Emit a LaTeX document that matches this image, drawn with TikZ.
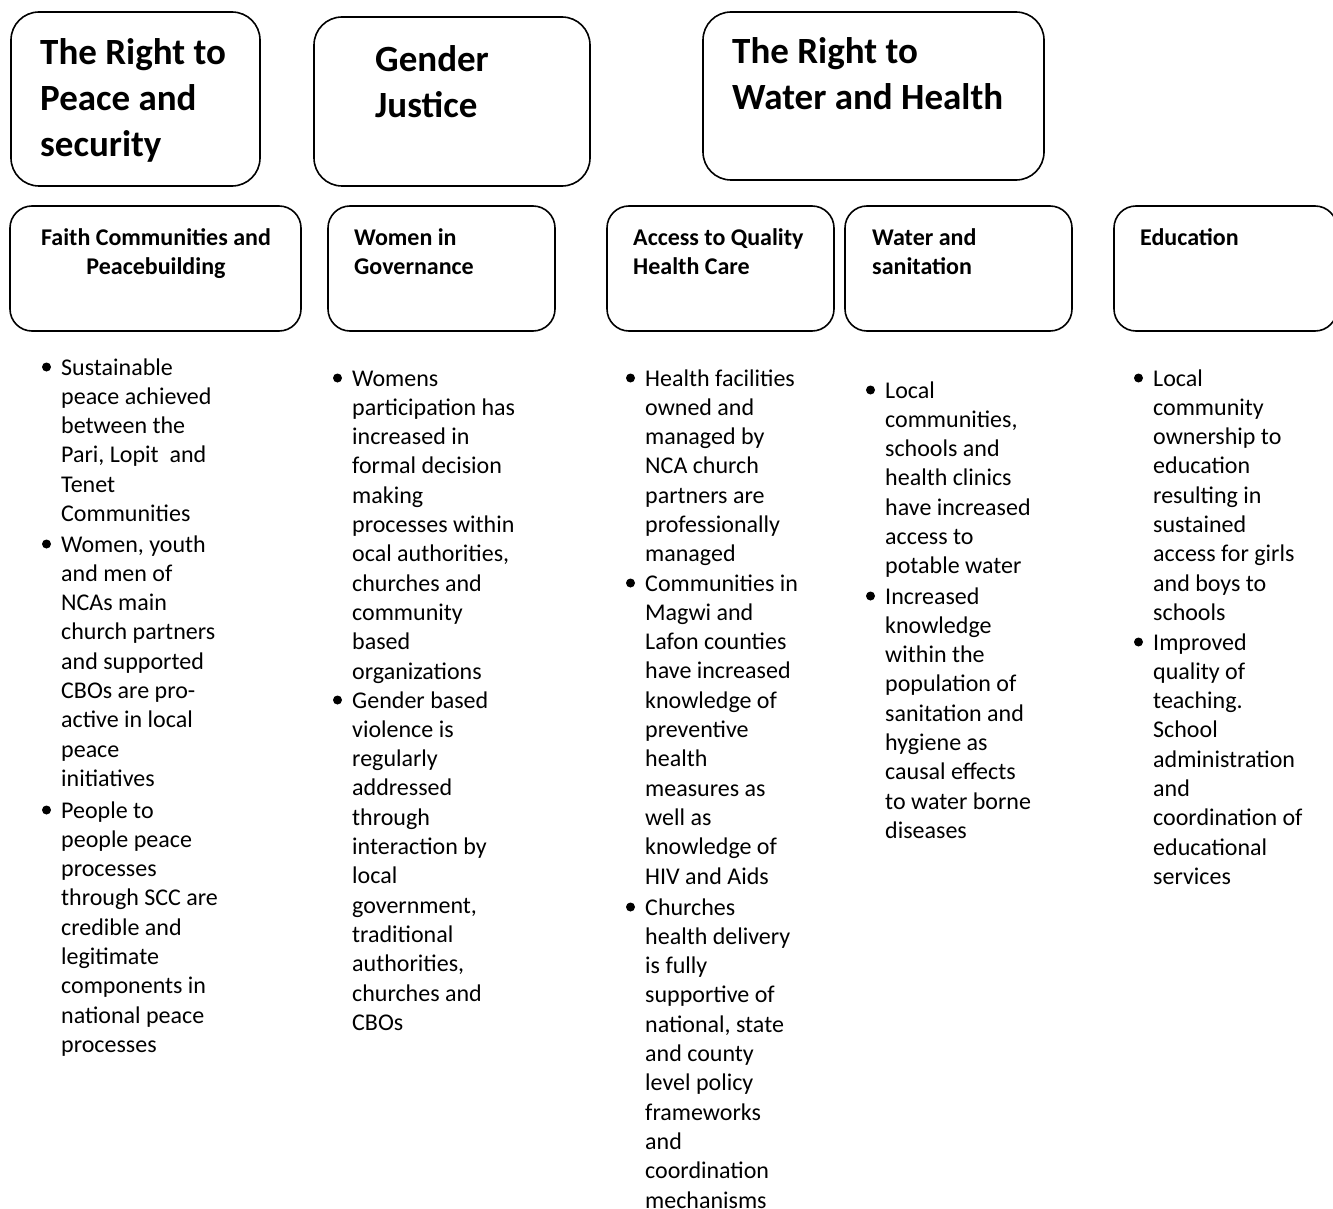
\documentclass[tikz,border=0pt]{standalone}
\usepackage{fontspec}
\setmainfont{Carlito}
\newcommand{\lignes}[1]{\begin{tabular}[t]{@{}l@{}}#1\end{tabular}}
\newcommand{\lignesc}[1]{\begin{tabular}[t]{@{}c@{}}#1\end{tabular}}
\newcommand{\puce}[1]{\fill (#1.base west) ++(-14.5,-8) circle (4.5pt);}
\begin{document}
\begin{tikzpicture}[x=1pt,y=-1pt]
		% définition des styles
		\tikzstyle{cadre}=[rectangle,draw,line width=1.6pt,rounded corners=28pt,inner sep=0pt]
		\tikzstyle{souscadre}=[cadre,rounded corners=22pt]
		\tikzstyle{titre}=[inner sep=0pt,anchor=base west,font=\fontsize{37}{46}\selectfont\bfseries]
		\tikzstyle{soustitre}=[inner sep=0pt,anchor=base west,font=\fontsize{24}{29}\selectfont\bfseries]
		\tikzstyle{liste}=[inner sep=0pt,anchor=base west,font=\fontsize{24}{29.3}\selectfont]
		\useasboundingbox (0,0) rectangle (1333,1209);
		% les cadres
		\node[cadre,minimum width=249,minimum height=174] (paix) at (135.5,99) {};
		\node[cadre,minimum width=276,minimum height=169] (genre) at (452,101.5) {};
		\node[cadre,minimum width=341,minimum height=168] (eau) at (873.5,96) {};
		\node[souscadre,minimum width=291,minimum height=125] (foi) at (155.5,268.5) {};
		\node[souscadre,minimum width=227,minimum height=125] (femmes) at (441.5,268.5) {};
		\node[souscadre,minimum width=227,minimum height=125] (sante) at (720.5,268.5) {};
		\node[souscadre,minimum width=227,minimum height=125] (assain) at (958.5,268.5) {};
		\node[souscadre,minimum width=223,minimum height=125] (educ) at (1225.5,268.5) {};
		% les titres
		\node[titre] (tpaix) at (40,65) {\lignes{The Right to\\Peace and\\security}};
		\node[titre] (tgenre) at (375,72) {\lignes{Gender\\Justice}};
		\node[titre] (teau) at (732,64) {\lignes{The Right to\\Water and Health}};
		\node[soustitre,anchor=base] (tfoi) at (156,245) {\lignesc{Faith Communities and\\Peacebuilding}};
		\node[soustitre] (tfemmes) at (354,245) {\lignes{Women in\\Governance}};
		\node[soustitre] (tsante) at (633,245) {\lignes{Access to Quality\\Health Care}};
		\node[soustitre] (tassain) at (872,245) {\lignes{Water and\\sanitation}};
		\node[soustitre] (teduc) at (1140,245) {Education};
		% les listes
		\node[liste] (foia) at (61,375) {\lignes{Sustainable\\peace achieved\\between the\\Pari, Lopit\ \ and\\Tenet\\Communities}};
		\node[liste] (foib) at (61,552) {\lignes{Women, youth\\and men of\\NCAs main\\church partners\\and supported\\CBOs are pro-\\active in local\\peace\\initiatives}};
		\node[liste] (foic) at (61,818) {\lignes{People to\\people peace\\processes\\through SCC are\\credible and\\legitimate\\components in\\national peace\\processes}};
		\node[liste] (femmesa) at (352,386) {\lignes{Womens\\participation has\\increased in\\formal decision\\making\\processes within\\ocal authorities,\\churches and\\community\\based\\organizations}};
		\node[liste] (femmesb) at (352,708) {\lignes{Gender based\\violence is\\regularly\\addressed\\through\\interaction by\\local\\government,\\traditional\\authorities,\\churches and\\CBOs}};
		\node[liste] (santea) at (645,386) {\lignes{Health facilities\\owned and\\managed by\\NCA church\\partners are\\professionally\\managed}};
		\node[liste] (santeb) at (645,591) {\lignes{Communities in\\Magwi and\\Lafon counties\\have increased\\knowledge of\\preventive\\health\\measures as\\well as\\knowledge of\\HIV and Aids}};
		\node[liste] (santec) at (645,915) {\lignes{Churches\\health delivery\\is fully\\supportive of\\national, state\\and county\\level policy\\frameworks\\and\\coordination\\mechanisms}};
		\node[liste] (assaina) at (885,398) {\lignes{Local\\communities,\\schools and\\health clinics\\have increased\\access to\\potable water}};
		\node[liste] (assainb) at (885,604) {\lignes{Increased\\knowledge\\within the\\population of\\sanitation and\\hygiene as\\causal effects\\to water borne\\diseases}};
		\node[liste] (educa) at (1153,386) {\lignes{Local\\community\\ownership to\\education\\resulting in\\sustained\\access for girls\\and boys to\\schools}};
		\node[liste] (educb) at (1153,650) {\lignes{Improved\\quality of\\teaching.\\School\\administration\\and\\coordination of\\educational\\services}};
		% les puces
		\puce{foia} \puce{foib} \puce{foic}
		\puce{femmesa} \puce{femmesb}
		\puce{santea} \puce{santeb} \puce{santec}
		\puce{assaina} \puce{assainb}
		\puce{educa} \puce{educb}
	\end{tikzpicture}
\end{document}
